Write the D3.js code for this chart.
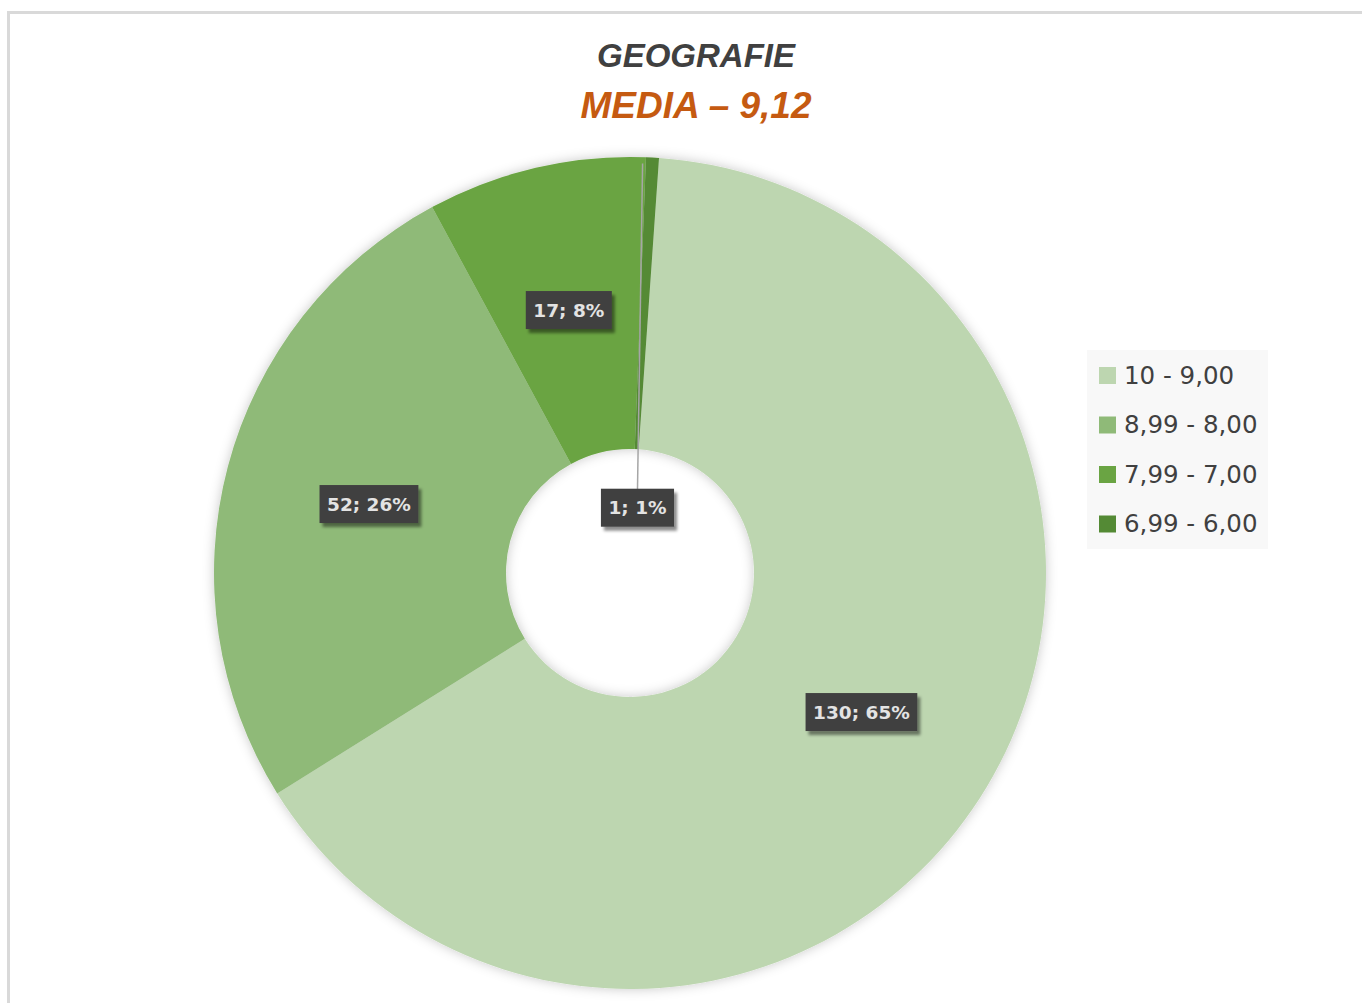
<!DOCTYPE html>
<html>
<head>
<meta charset="utf-8">
<script src="https://cdn.jsdelivr.net/npm/d3@7"></script>
<style>
  body { margin: 0; background: #fff; }
  svg { display: block; }
</style>
</head>
<body>
<div id="chart"></div>
<script>
const categories = ["10 - 9,00", "8,99 - 8,00", "7,99 - 7,00", "6,99 - 6,00"];
const values = [130, 52, 17, 1];
const percents = ["65%", "26%", "8%", "1%"];
const colors = ["#bdd6b0", "#8fba78", "#6aa443", "#548a35"];
// the small slice's label was dragged into the hole (fraction of inner radius)
const labelRadius = [null, null, null, 0.53];

const width = 1362, height = 1003;
const cx = 630, cy = 573;
const outerR = 416, innerR = 124;

const svg = d3.select("#chart")
  .append("svg")
  .attr("width", width)
  .attr("height", height);

const defs = svg.append("defs");
defs.append("filter")
    .attr("id", "pieShadow")
    .attr("x", "-20%").attr("y", "-20%").attr("width", "140%").attr("height", "140%")
  .append("feDropShadow")
    .attr("dx", 0).attr("dy", 0)
    .attr("stdDeviation", 6)
    .attr("flood-color", "#000")
    .attr("flood-opacity", 0.22);

defs.append("filter")
    .attr("id", "boxShadow")
    .attr("x", "-20%").attr("y", "-30%").attr("width", "150%").attr("height", "170%")
  .append("feDropShadow")
    .attr("dx", 3).attr("dy", 4)
    .attr("stdDeviation", 1.8)
    .attr("flood-color", "#000")
    .attr("flood-opacity", 0.45);

// chart area border
svg.append("rect")
    .attr("x", 8.5).attr("y", 12.5)
    .attr("width", 1400).attr("height", 1100)
    .attr("fill", "none")
    .attr("stroke", "#d9d9d9")
    .attr("stroke-width", 3);

// titles
svg.append("text")
    .attr("x", 696).attr("y", 67)
    .attr("text-anchor", "middle")
    .attr("font-family", "Liberation Sans, Arial, sans-serif")
    .attr("font-style", "italic")
    .attr("font-weight", "bold")
    .attr("font-size", 33)
    .attr("fill", "#404040")
    .text("GEOGRAFIE");

svg.append("text")
    .attr("x", 696).attr("y", 118)
    .attr("text-anchor", "middle")
    .attr("font-family", "Liberation Sans, Arial, sans-serif")
    .attr("font-style", "italic")
    .attr("font-weight", "bold")
    .attr("font-size", 37)
    .attr("fill", "#c55a11")
    .text("MEDIA \u2013 9,12");

// donut
const startRot = 4 * Math.PI / 180;
const pie = d3.pie()
    .sort(null)
    .startAngle(startRot)
    .endAngle(startRot + 2 * Math.PI);

const arcs = pie(values);

const arc = d3.arc()
    .innerRadius(innerR)
    .outerRadius(outerR);

const g = svg.append("g")
    .attr("transform", `translate(${cx},${cy})`);

g.append("g")
    .attr("filter", "url(#pieShadow)")
  .selectAll("path")
  .data(arcs)
  .join("path")
    .attr("d", arc)
    .attr("fill", (d, i) => colors[i]);

// data labels
const labelFont = "DejaVu Sans, sans-serif";
const labels = g.append("g").attr("class", "labels");

arcs.forEach((d, i) => {
  const mid = (d.startAngle + d.endAngle) / 2;
  const anchor = arc.centroid(d);
  let pos = anchor;
  if (labelRadius[i] !== null) {
    const r = innerR * labelRadius[i];
    pos = [Math.sin(mid + 0.06) * r, -Math.cos(mid + 0.06) * r];
  }
  const txt = values[i] + "; " + percents[i];
  const lg = labels.append("g").attr("transform", `translate(${pos[0]},${pos[1]})`);

  if (labelRadius[i] !== null) {
    labels.insert("line", ":first-child")
        .attr("x1", anchor[0] - 2).attr("y1", anchor[1] - 140)
        .attr("x2", pos[0]).attr("y2", pos[1] - 18)
        .attr("stroke", "#a6a6a6")
        .attr("stroke-width", 1.5);
  }

  const t = lg.append("text")
      .attr("text-anchor", "middle")
      .attr("dy", "0.36em")
      .attr("font-family", labelFont)
      .attr("font-weight", "bold")
      .attr("font-size", 18.5)
      .attr("fill", "#e3e3e3")
      .text(txt);
  const w = t.node().getComputedTextLength() + 15;
  const h = 38;
  lg.insert("rect", "text")
      .attr("x", -w / 2).attr("y", -h / 2)
      .attr("width", w).attr("height", h)
      .attr("fill", "#404040")
      .attr("filter", "url(#boxShadow)");
});

// legend
const legend = svg.append("g").attr("transform", "translate(1087,350)");
legend.append("rect")
    .attr("width", 181).attr("height", 199)
    .attr("fill", "#f8f8f8");

const items = legend.selectAll("g.item")
  .data(categories)
  .join("g")
    .attr("class", "item")
    .attr("transform", (d, i) => `translate(0,${25 + i * 49.5})`);

items.append("rect")
    .attr("x", 12).attr("y", -8)
    .attr("width", 17).attr("height", 17)
    .attr("fill", (d, i) => colors[i]);

items.append("text")
    .attr("x", 37)
    .attr("dy", "0.36em")
    .attr("font-family", labelFont)
    .attr("font-size", 24.5)
    .attr("fill", "#404040")
    .text(d => d);
</script>
</body>
</html>
